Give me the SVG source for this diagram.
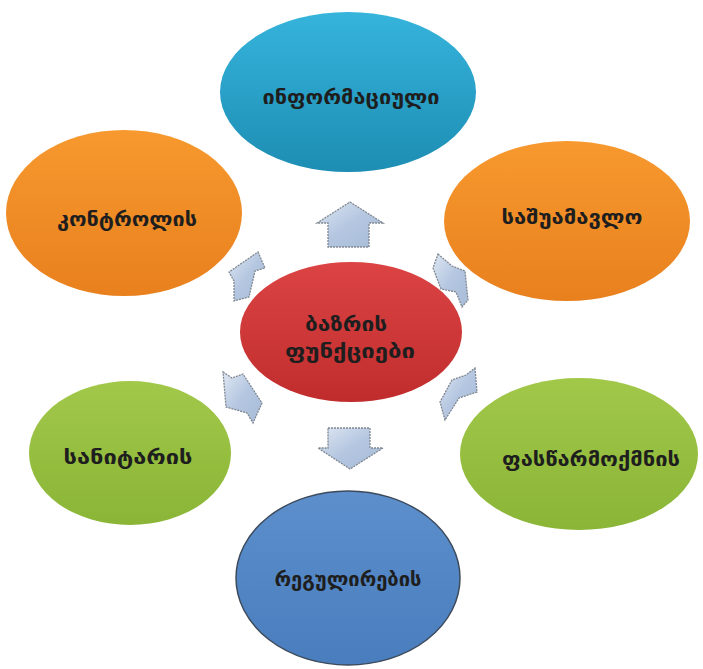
<svg xmlns="http://www.w3.org/2000/svg" width="703" height="669" viewBox="0 0 703 669">
<defs>
<linearGradient id="gBlue" x1="0" y1="0" x2="0" y2="1">
<stop offset="0" stop-color="#36b4dc"/><stop offset="1" stop-color="#1d8db3"/>
</linearGradient>
<linearGradient id="gOrange" x1="0" y1="0" x2="0" y2="1">
<stop offset="0" stop-color="#f7992e"/><stop offset="1" stop-color="#e8801e"/>
</linearGradient>
<linearGradient id="gRed" x1="0" y1="0" x2="0" y2="1">
<stop offset="0" stop-color="#dc4444"/><stop offset="1" stop-color="#c02c2c"/>
</linearGradient>
<linearGradient id="gGreen" x1="0" y1="0" x2="0" y2="1">
<stop offset="0" stop-color="#a2c84a"/><stop offset="1" stop-color="#8ab536"/>
</linearGradient>
<linearGradient id="gBlue2" x1="0" y1="0" x2="0" y2="1">
<stop offset="0" stop-color="#5c8fcc"/><stop offset="1" stop-color="#4a7dbd"/>
</linearGradient>
<linearGradient id="gArrow" x1="0" y1="0" x2="1" y2="1">
<stop offset="0" stop-color="#dfe7f3"/><stop offset="0.5" stop-color="#b4c6e0"/><stop offset="1" stop-color="#a8bcd8"/>
</linearGradient>
</defs>
<style>
.lbl{font-family:"DejaVu Sans","Noto Sans",sans-serif;font-weight:bold;font-size:20px;fill:#1e1e1e;text-anchor:middle}
.arr{fill:url(#gArrow);stroke:#7f8790;stroke-width:1.3;stroke-dasharray:2 1}
</style>
<rect width="703" height="669" fill="#ffffff"/>
<g id="node-informatsiuli">
<ellipse cx="348" cy="92" rx="128" ry="80" fill="url(#gBlue)"/>
<text class="lbl" x="351" y="104" textLength="177" lengthAdjust="spacingAndGlyphs">ინფორმაციული</text>
</g>
<g id="node-kontrolis">
<ellipse cx="124" cy="213" rx="118" ry="83" fill="url(#gOrange)"/>
<text class="lbl" x="127" y="226" textLength="140" lengthAdjust="spacingAndGlyphs">კონტროლის</text>
</g>
<g id="node-sashuamavlo">
<ellipse cx="567" cy="221" rx="123" ry="80" fill="url(#gOrange)"/>
<text class="lbl" x="572" y="224" textLength="141" lengthAdjust="spacingAndGlyphs">საშუამავლო</text>
</g>
<g id="node-bazris">
<ellipse cx="351" cy="332" rx="111" ry="70" fill="url(#gRed)"/>
<text class="lbl" x="346" y="331" textLength="82" lengthAdjust="spacingAndGlyphs">ბაზრის</text>
<text class="lbl" x="350" y="358" textLength="130" lengthAdjust="spacingAndGlyphs">ფუნქციები</text>
</g>
<g id="node-sanitaris">
<ellipse cx="130" cy="453" rx="101" ry="72" fill="url(#gGreen)"/>
<text class="lbl" x="128" y="464" textLength="129" lengthAdjust="spacingAndGlyphs">სანიტარის</text>
</g>
<g id="node-pastsarmokmnis">
<ellipse cx="579" cy="454" rx="119" ry="76" fill="url(#gGreen)"/>
<text class="lbl" x="591" y="466" textLength="178" lengthAdjust="spacingAndGlyphs">ფასწარმოქმნის</text>
</g>
<g id="node-regulirebis">
<ellipse cx="348" cy="578" rx="112" ry="87" fill="url(#gBlue2)" stroke="#3d4a5a" stroke-width="1.5"/>
<text class="lbl" x="348" y="586" textLength="147" lengthAdjust="spacingAndGlyphs">რეგულირების</text>
</g>
<g id="connectors">
<polygon class="arr" points="350,202 383,223 369,223 369,247 328,247 328,223 317,223"/>
<polygon class="arr" points="328,428 370,428 370,448 383,448 350,469 318,448 328,448"/>
<polygon class="arr" points="258,252 265,268 255,271 249,297 234,301 234,281 229,272"/>
<polygon class="arr" points="438,254 452,266 465,271 468,300 462,307 456,292 441,289 433,268"/>
<polygon class="arr" points="223,372 232,378 243,374 262,403 253,423 247,413 226,407"/>
<polygon class="arr" points="475,368 477,392 459,398 445,420 440,402 452,380 466,375"/>
</g>
</svg>
